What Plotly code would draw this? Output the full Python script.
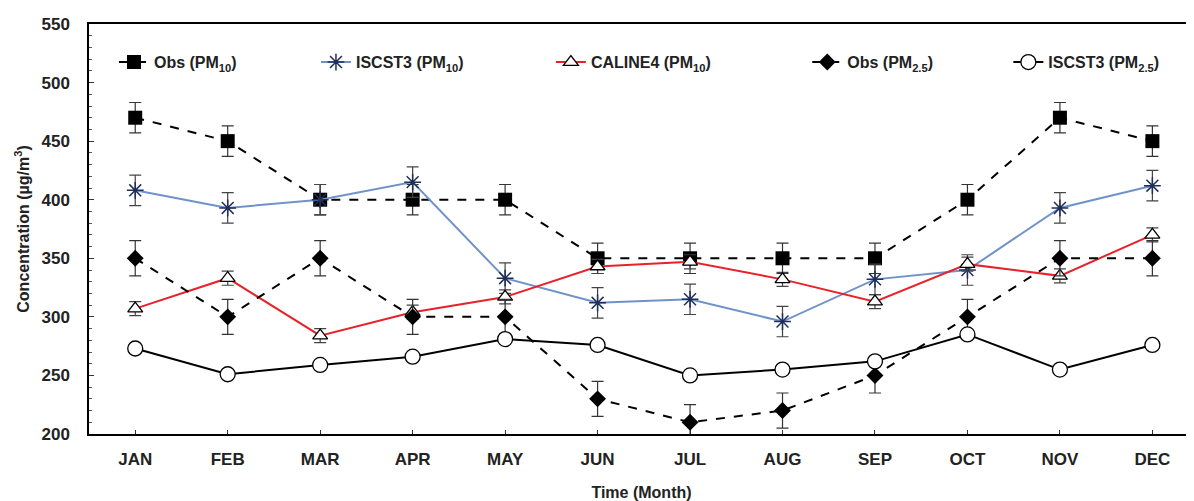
import plotly.graph_objects as go

months = ["JAN", "FEB", "MAR", "APR", "MAY", "JUN", "JUL", "AUG", "SEP", "OCT", "NOV", "DEC"]
obs_pm10 = [470, 450, 400, 400, 400, 350, 350, 350, 350, 400, 470, 450]
obs_pm10_err = [13, 13, 13, 13, 13, 13, 13, 13, 13, 13, 13, 13]
iscst3_pm10 = [408, 393, 400, 415, 333, 312, 315, 296, 332, 340, 393, 412]
iscst3_pm10_err = [13, 13, 13, 13, 13, 13, 13, 13, 13, 13, 13, 13]
caline4_pm10 = [307, 333, 284, 304, 317, 343, 347, 332, 313, 345, 335, 370]
caline4_pm10_err = [6, 6, 6, 6, 6, 6, 6, 6, 6, 6, 6, 6]
obs_pm25 = [350, 300, 350, 300, 300, 230, 210, 220, 250, 300, 350, 350]
obs_pm25_err = [15, 15, 15, 15, 15, 15, 15, 15, 15, 15, 15, 15]
iscst3_pm25 = [273, 251, 259, 266, 281, 276, 250, 255, 262, 285, 255, 276]

x = list(range(len(months)))
FONT = "Liberation Sans, Arial, sans-serif"
TXT = "#222222"

fig = go.Figure()

def err(arr, color):
    return dict(type="data", array=arr, visible=True, color=color, thickness=1.2, width=6)

fig.add_trace(go.Scatter(
    x=x, y=obs_pm10, name="Obs (PM<sub>10</sub>)", mode="lines+markers", legend="legend",
    line=dict(color="black", width=2, dash="dash"),
    marker=dict(symbol="square", size=14, color="black"),
    error_y=err(obs_pm10_err, "#333333")))
fig.add_trace(go.Scatter(
    x=x, y=iscst3_pm10, name="ISCST3 (PM<sub>10</sub>)", mode="lines+markers", legend="legend2",
    line=dict(color="#6f93c9", width=2),
    marker=dict(symbol="asterisk-open", size=14, color="#1f2f5a", line=dict(width=1.5, color="#1f2f5a")),
    error_y=err(iscst3_pm10_err, "#444444")))
fig.add_trace(go.Scatter(
    x=x, y=caline4_pm10, name="CALINE4 (PM<sub>10</sub>)", mode="lines+markers", legend="legend3",
    line=dict(color="#e8212b", width=2),
    marker=dict(symbol="triangle-up", size=13, color="white", line=dict(width=1.3, color="black")),
    error_y=err(caline4_pm10_err, "#444444")))
fig.add_trace(go.Scatter(
    x=x, y=obs_pm25, name="Obs (PM<sub>2.5</sub>)", mode="lines+markers", legend="legend4",
    line=dict(color="black", width=2, dash="dash"),
    marker=dict(symbol="diamond", size=13, color="black"),
    error_y=err(obs_pm25_err, "#333333")))
fig.add_trace(go.Scatter(
    x=x, y=iscst3_pm25, name="ISCST3 (PM<sub>2.5</sub>)", mode="lines+markers", legend="legend5",
    line=dict(color="black", width=2),
    marker=dict(symbol="circle", size=15, color="white", line=dict(width=1.3, color="black"))))

def leg(xpos):
    return dict(orientation="h", x=xpos, xanchor="left", y=0.907, yanchor="middle",
                font=dict(family=FONT, size=16, weight="bold", color=TXT),
                bgcolor="rgba(0,0,0,0)")

fig.update_layout(
    width=1186, height=493,
    margin=dict(l=81, r=0, t=16, b=67),
    plot_bgcolor="white", paper_bgcolor="white",
    font=dict(family=FONT, color=TXT),
    showlegend=True,
    legend=leg(0.0226),
    legend2=leg(0.2054),
    legend3=leg(0.418),
    legend4=leg(0.650),
    legend5=leg(0.832),
    xaxis=dict(
        tickmode="array", tickvals=x, ticktext=months,
        range=[-0.5, 11.45], showgrid=False, zeroline=False, automargin=False,
        showline=True, linecolor="black", linewidth=1.5, mirror=True,
        ticks="inside", ticklen=4, tickcolor="#333333",
        tickfont=dict(family=FONT, size=17, weight="bold", color=TXT),
        ticklabelstandoff=9,
        title=dict(text="Time (Month)", font=dict(family=FONT, size=16, weight="bold", color=TXT), standoff=20)),
    yaxis=dict(
        range=[200, 550], dtick=50, showgrid=False, zeroline=False, automargin=False,
        showline=True, linecolor="black", linewidth=1.5,
        ticks="inside", ticklen=5, tickcolor="#333333",
        minor=dict(dtick=10, ticks="inside", ticklen=3, tickcolor="#555555"),
        tickfont=dict(family=FONT, size=17, weight="bold", color=TXT),
        ticklabelstandoff=14,
        title=dict(text="Concentration (µg/m<sup>3</sup>)", font=dict(family=FONT, size=16, weight="bold", color=TXT), standoff=8)),
)

fig.write_html("out.html")
